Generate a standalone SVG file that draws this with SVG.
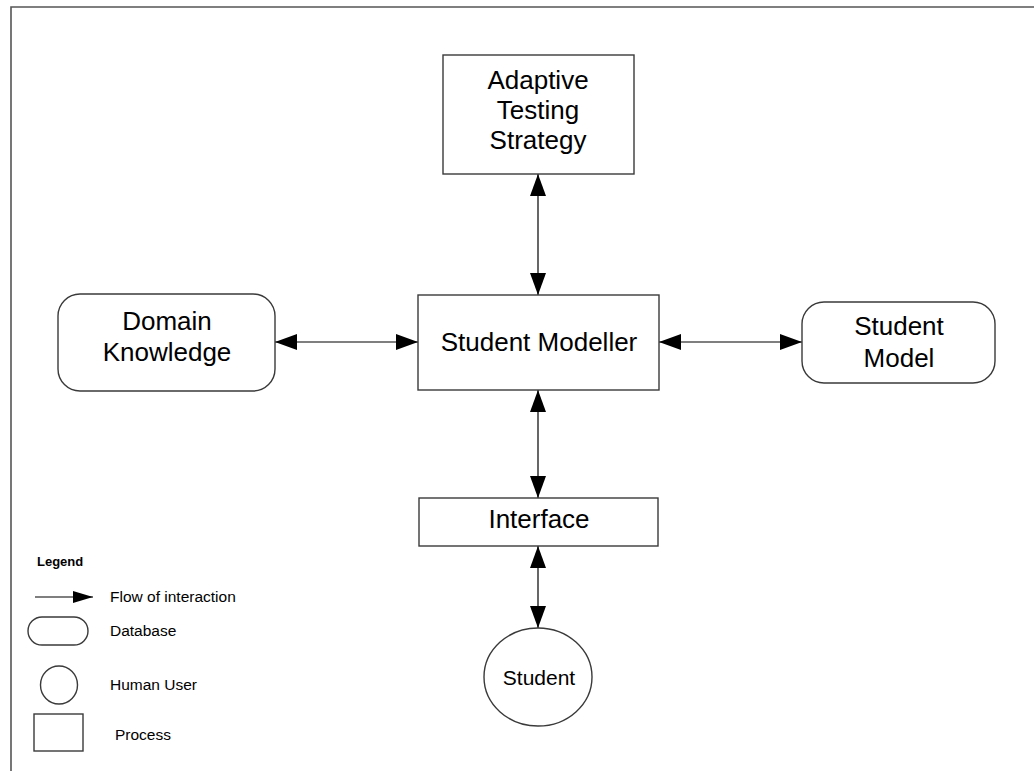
<svg xmlns="http://www.w3.org/2000/svg" width="1034" height="771" viewBox="0 0 1034 771">
  <defs>
    <marker id="head" markerUnits="userSpaceOnUse" markerWidth="22" markerHeight="16" refX="22" refY="8" orient="auto-start-reverse">
      <path d="M0,0 L22,8 L0,16 z" fill="#000"/>
    </marker>
    <marker id="head-sm" markerUnits="userSpaceOnUse" markerWidth="20" markerHeight="12" refX="20" refY="6" orient="auto">
      <path d="M0,0 L20,6 L0,12 z" fill="#000"/>
    </marker>
    <style>
      text { font-family: "Liberation Sans", Arial, sans-serif; fill: #000; }
      .shape { fill: #fff; stroke: #3a3a3a; stroke-width: 1.4; }
      .big { font-size: 26px; text-anchor: middle; }
      .mid { font-size: 21px; text-anchor: middle; }
      .leg { font-size: 15.5px; }
      .flow { stroke: #000; stroke-width: 1.2; fill: none; marker-start: url(#head); marker-end: url(#head); }
    </style>
  </defs>

  <rect width="1034" height="771" fill="#fff"/>
  <!-- page frame -->
  <path d="M11,771 V7 H1034" fill="none" stroke="#555" stroke-width="1.6"/>

  <g id="connectors">
    <line class="flow" x1="538" y1="174" x2="538" y2="295"/>
    <line class="flow" x1="275" y1="342" x2="418" y2="342"/>
    <line class="flow" x1="659" y1="342" x2="802" y2="342"/>
    <line class="flow" x1="538" y1="390" x2="538" y2="498"/>
    <line class="flow" x1="538" y1="546" x2="538" y2="628"/>
  </g>

  <g id="adaptive-testing-strategy">
    <rect class="shape" x="443" y="55" width="191" height="119"/>
    <text class="big" x="538" y="89">Adaptive</text>
    <text class="big" x="538" y="119">Testing</text>
    <text class="big" x="538" y="149">Strategy</text>
  </g>

  <g id="student-modeller">
    <rect class="shape" x="418" y="295" width="241" height="95"/>
    <text class="big" x="539" y="351">Student Modeller</text>
  </g>

  <g id="domain-knowledge">
    <rect class="shape" x="58" y="294" width="217" height="97" rx="22" ry="22"/>
    <text class="big" x="167" y="330">Domain</text>
    <text class="big" x="167" y="361">Knowledge</text>
  </g>

  <g id="student-model">
    <rect class="shape" x="802" y="302" width="193" height="81" rx="22" ry="22"/>
    <text class="big" x="899" y="335">Student</text>
    <text class="big" x="899" y="367">Model</text>
  </g>

  <g id="interface">
    <rect class="shape" x="419" y="498" width="239" height="48"/>
    <text class="big" x="539" y="528">Interface</text>
  </g>

  <g id="student">
    <ellipse class="shape" cx="538" cy="677" rx="54" ry="49"/>
    <text class="mid" x="539" y="685">Student</text>
  </g>

  <g id="legend">
    <text x="37" y="566" font-size="13" font-weight="bold">Legend</text>
    <line x1="35" y1="597" x2="93" y2="597" stroke="#000" stroke-width="1.2" marker-end="url(#head-sm)"/>
    <text class="leg" x="110" y="602">Flow of interaction</text>
    <rect class="shape" x="28" y="617" width="60" height="28" rx="14" ry="14"/>
    <text class="leg" x="110" y="636">Database</text>
    <ellipse class="shape" cx="59" cy="685" rx="18.5" ry="19"/>
    <text class="leg" x="110" y="690">Human User</text>
    <rect class="shape" x="34" y="714" width="49" height="37"/>
    <text class="leg" x="115" y="740">Process</text>
  </g>
</svg>
